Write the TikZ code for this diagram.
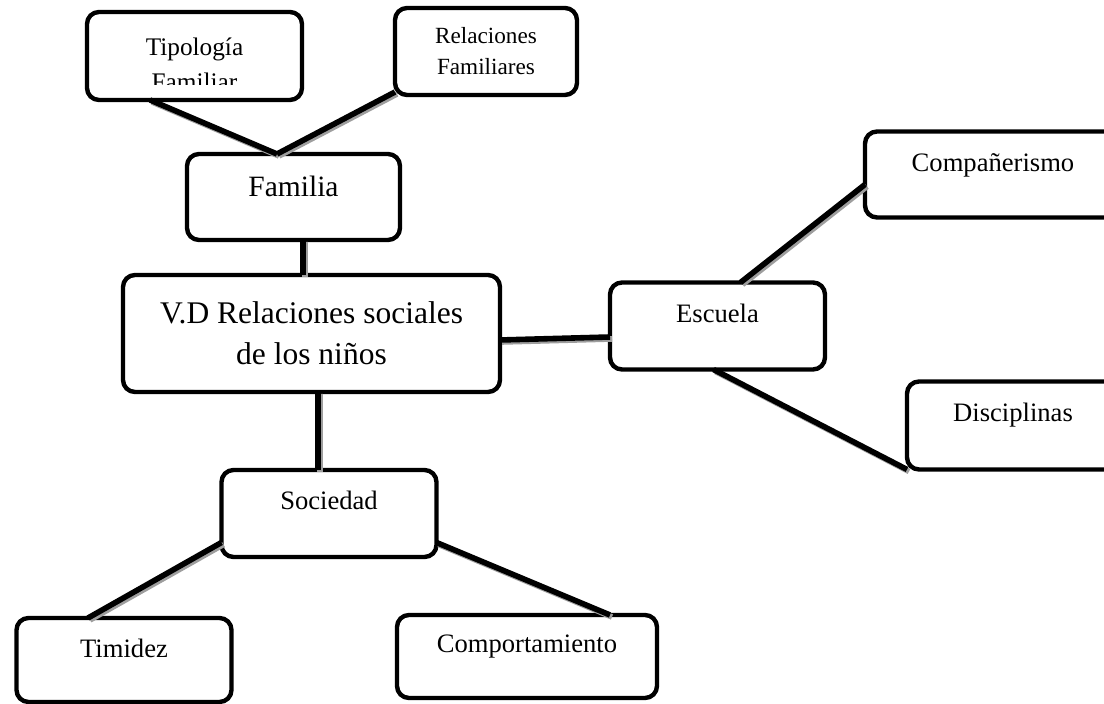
\documentclass[tikz,border=0pt]{standalone}
\usepackage{fontspec}
\setmainfont{Liberation Serif}
\usepackage{tikz}
\usetikzlibrary{positioning}
\tikzset{box/.style={draw,line width=2.2pt,rounded corners=6pt,inner sep=0pt,outer sep=0pt},
sub box/.style={box,text height=20pt,font=\fontsize{13.3}{16}\selectfont},
link/.style={line width=2.8pt},
link shade/.style={link,draw=black!38},}

\begin{document}
\begin{tikzpicture}
	\path[use as bounding box,clip] (0,0) rectangle (552pt,-352pt);

	\node[box,align=center,minimum width=188.5pt,minimum height=58.5pt,font=\fontsize{15.75}{20.5}\selectfont] (vd) at (155.75pt,-166.75pt) {V.D Relaciones sociales\\de los niños};
	\node[sub box,minimum width=106.5pt,text height=21.5pt,text depth=21.5pt,font=\fontsize{14.75}{17}\selectfont] (fam) [above = 17.5pt of vd,xshift=-9pt] {Familia};
	\node[box,minimum width=107.5pt,minimum height=44pt] (tipo) [above = 27pt of fam,xshift=-49.5pt] {};
	\node[box,align=center,minimum width=91pt,minimum height=43.5pt,font=\fontsize{11.6}{15.5}\selectfont] (relf) [above = 29.5pt of fam,xshift=96.25pt] {Relaciones\\Familiares};
	\node[sub box,minimum width=107.5pt,text depth=23.5pt] (esc) [right = 55pt of vd,yshift=3.75pt] {Escuela};
	\node[sub box,minimum width=128pt,text depth=23pt] (comp) [above right = 32.5pt and 20pt of esc] {Compañerismo};
	\node[sub box,minimum width=106pt,text depth=24pt] (disc) [below right = 6pt and 41pt of esc] {Disciplinas};
	\node[sub box,minimum width=107.5pt,text depth=23.5pt] (soc) [below = 39pt of vd,xshift=8.75pt] {Sociedad};
	\node[sub box,minimum width=107.5pt,text depth=22pt] (tim) [below = 30.5pt of soc,xshift=-102.5pt] {Timidez};
	\node[sub box,minimum width=130pt,text height=19pt,text depth=22.5pt] (compo) [below = 29pt of soc,xshift=99pt] {Comportamiento};

	% text of the first box is cut off at the bottom
	\begin{scope}
		\clip (tipo.north west) rectangle ([yshift=7.5pt]tipo.south east);
		\node[anchor=north,inner sep=0pt,align=center,font=\fontsize{12.65}{17.5}\selectfont] (tipotext) at ([yshift=-12.7pt]tipo.north) {Tipología\\Familiar};
	\end{scope}

	\def\linkset{
	([xshift=-22.25pt]tipo.south) -- ([xshift=-8.25pt]fam.north)
	([yshift=1.5pt]relf.south west) -- ([xshift=-8.25pt]fam.north)
	([xshift=4.75pt]fam.south) -- ([xshift=-4.25pt]vd.north)
	([yshift=-3.25pt]vd.east) -- ([yshift=-5.5pt]esc.west)
	([xshift=3.25pt]vd.south) -- ([xshift=-5.5pt]soc.north)
	([xshift=11.5pt]esc.north) -- ([yshift=-5pt]comp.west)
	([xshift=-2pt]esc.south) -- (disc.south west)
	([yshift=-14.5pt]soc.west) -- ([xshift=-18pt]tim.north)
	([yshift=-14.5pt]soc.east) -- ([xshift=41.5pt]compo.north)}

	% grey shadow under the connectors
	\begin{scope}[transform canvas={xshift=1pt,yshift=-1pt}]
		\draw[link shade] \linkset;
	\end{scope}
	\draw[link] \linkset;
\end{tikzpicture}
\end{document}
